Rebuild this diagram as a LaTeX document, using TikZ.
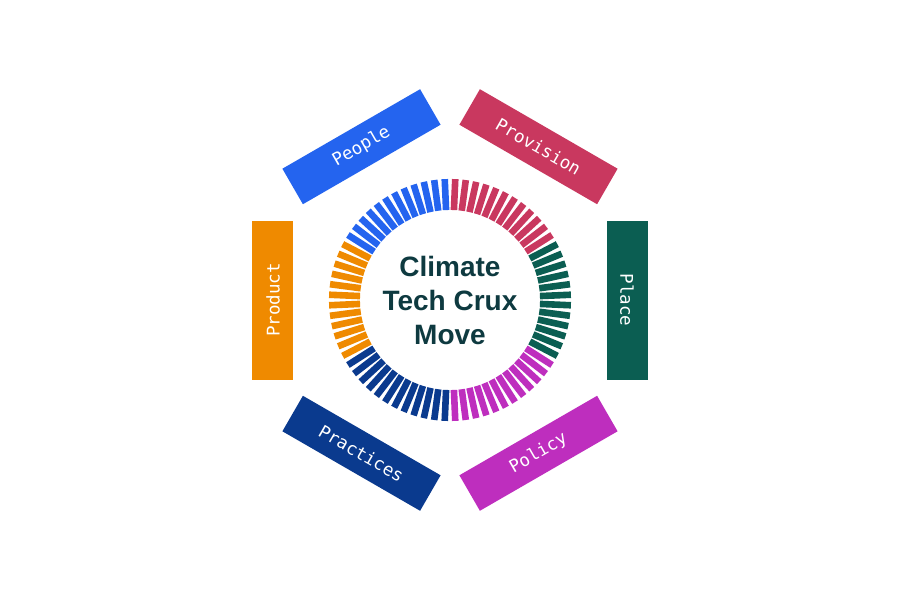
\documentclass[tikz,border=0pt]{standalone}
\usepackage{fontspec}
\setmainfont{Liberation Sans}
\newfontfamily\pillarfont{DejaVu Sans Mono}
\usepackage{tikz}
\definecolor{peopleblue}{HTML}{2464EF}
\definecolor{provisionred}{HTML}{C9385F}
\definecolor{placegreen}{HTML}{0B5E52}
\definecolor{policypink}{HTML}{BE2EBE}
\definecolor{practicesnavy}{HTML}{0A3A8E}
\definecolor{productorange}{HTML}{EF8A00}
\definecolor{cruxink}{HTML}{0E3A40}

\tikzset{
  pillar/.style={minimum width=159pt, minimum height=41pt, inner sep=0pt,
                 text=white, font=\pillarfont\fontsize{17.5}{18}\selectfont},
  tick/.style={line width=6.6pt}
}

\begin{document}
\begin{tikzpicture}[x=1pt, y=1pt]
    \fill[white] (-450,-300) rectangle (450,300);
    % ring of ticks, twelve per theme, clockwise from the top
    \foreach \col [count=\k from 0] in {provisionred, placegreen, policypink, practicesnavy, productorange, peopleblue}
      \foreach \i in {0,...,11}
        \draw[tick, draw=\col] ({87.5-60*\k-5*\i}:90) -- ({87.5-60*\k-5*\i}:121);
    \node[font=\bfseries\fontsize{28}{34}\selectfont, text=cruxink, align=center] (crux) at (0,0)
      {Climate\\Tech Crux\\Move};
    % the six themes round the ring
    \node[pillar, fill=peopleblue, rotate=30] (people) at (120:177) {People};
    \node[pillar, fill=provisionred, rotate=-30] (provision) at (60:177) {Provision};
    \node[pillar, fill=placegreen, rotate=-90] (place) at (0:177) {Place};
    \node[pillar, fill=policypink, rotate=30] (policy) at (-60:177) {Policy};
    \node[pillar, fill=practicesnavy, rotate=-30] (practices) at (-120:177) {Practices};
    \node[pillar, fill=productorange, rotate=90] (product) at (180:177) {Product};
  \end{tikzpicture}
\end{document}
